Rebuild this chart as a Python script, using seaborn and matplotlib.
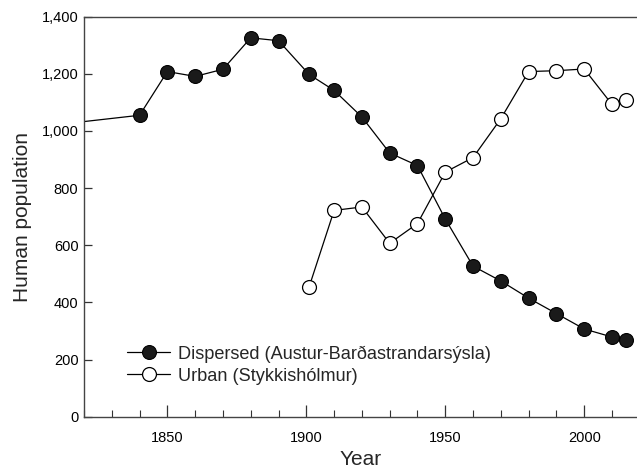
import numpy as np
import pandas as pd
import matplotlib
matplotlib.use("Agg")
import matplotlib.pyplot as plt
import seaborn as sns
from matplotlib.ticker import FuncFormatter, MultipleLocator

# data
disp_years = [1801, 1840, 1850, 1860, 1870, 1880, 1890, 1901, 1910, 1920, 1930,
              1940, 1950, 1960, 1970, 1980, 1990, 2000, 2010, 2015]
disp_pop = [1012, 1055, 1208, 1191, 1216, 1326, 1316, 1198, 1142, 1049, 923,
            879, 692, 527, 475, 415, 361, 307, 279, 268]

urban_years = [1901, 1910, 1920, 1930, 1940, 1950, 1960, 1970, 1980, 1990, 2000, 2010, 2015]
urban_pop = [454, 722, 734, 607, 676, 856, 907, 1043, 1208, 1211, 1217, 1093, 1108]

disp_label = "Dispersed (Austur-Barðastrandarsýsla)"
urban_label = "Urban (Stykkishólmur)"

sns.set_style("ticks")
plt.rcParams['font.family'] = ['Liberation Sans', 'DejaVu Sans']

disp_df = pd.DataFrame({'Year': disp_years, 'Population': disp_pop})
urban_df = pd.DataFrame({'Year': urban_years, 'Population': urban_pop})

fig = plt.figure(figsize=(6.37, 4.72), dpi=100)
ax = fig.add_axes([84 / 637, 1 - 416.7 / 472, 1 - 84 / 637, 400 / 472])

sns.lineplot(data=disp_df, x='Year', y='Population', ax=ax, color='black',
             linewidth=0.9, marker='o', markersize=10, markerfacecolor='#1a1a1a',
             markeredgecolor='black', markeredgewidth=0.8, label=disp_label)
sns.lineplot(data=urban_df, x='Year', y='Population', ax=ax, color='black',
             linewidth=0.9, marker='o', markersize=10, markerfacecolor='white',
             markeredgecolor='black', markeredgewidth=0.9, label=urban_label)

ax.set_xlim(1820, 2019)
ax.set_ylim(0, 1400)
ax.xaxis.set_major_locator(MultipleLocator(50))
ax.xaxis.set_minor_locator(MultipleLocator(10))
ax.yaxis.set_major_locator(MultipleLocator(200))
ax.yaxis.set_major_formatter(FuncFormatter(lambda v, p: f"{int(v):,}"))

ax.tick_params(axis='x', which='major', direction='in', length=9, width=0.9,
               labelsize=10.5, pad=10, colors='#333333', labelcolor='black')
ax.tick_params(axis='x', which='minor', direction='in', length=5, width=0.8, colors='#333333')
ax.tick_params(axis='y', which='major', direction='in', length=6, width=0.9,
               labelsize=10.5, pad=4, colors='#333333', labelcolor='black')

for side in ['left', 'top', 'bottom']:
    ax.spines[side].set_visible(True)
    ax.spines[side].set_color('#444444')
    ax.spines[side].set_linewidth(1.0)
ax.spines['right'].set_visible(False)

ax.set_xlabel('Year', fontsize=15, labelpad=4)
ax.set_ylabel('Human population', fontsize=15, labelpad=7)

ax.legend(loc='lower left', bbox_to_anchor=(0.065, 0.062), frameon=False,
          fontsize=13.1, handlelength=2.35, handletextpad=0.45, labelspacing=0.27,
          borderaxespad=0)

fig.savefig('out.png', dpi=100)
